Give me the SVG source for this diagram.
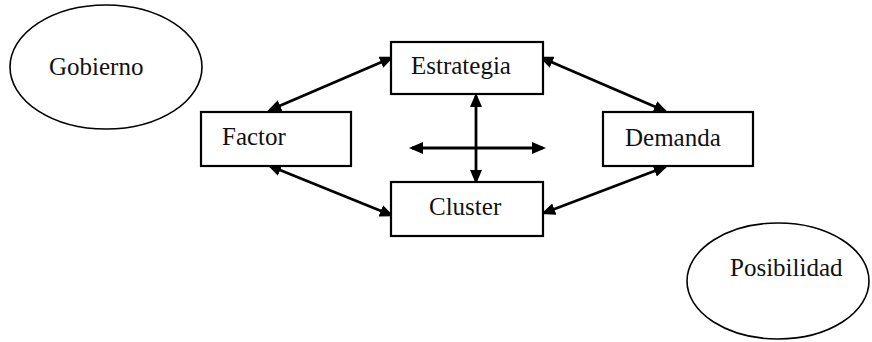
<svg xmlns="http://www.w3.org/2000/svg" width="872" height="342" viewBox="0 0 872 342">
<style>
.node{fill:#fff;stroke:#000;stroke-width:2.2}
.ell{fill:#fff;stroke:#000;stroke-width:1.6}
.lbl{font-family:"Liberation Serif","Times New Roman",serif;font-size:25px;fill:#111}
.conn{stroke:#000;stroke-width:2.8;fill:none;marker-start:url(#ah);marker-end:url(#ah)}
</style>
<defs>
<marker id="ah" markerUnits="userSpaceOnUse" markerWidth="14" markerHeight="12" refX="11" refY="6" orient="auto-start-reverse" viewBox="0 0 14 12">
<path d="M0,0 L14,6 L0,12 z" fill="#000"/>
</marker>
</defs>
<rect width="872" height="342" fill="#fff"/>
<g id="gobierno">
<ellipse class="ell" cx="106" cy="67" rx="96" ry="62"/>
<text class="lbl" x="49" y="75">Gobierno</text>
</g>
<g id="posibilidad">
<ellipse class="ell" cx="778" cy="281" rx="91" ry="58"/>
<text class="lbl" x="730" y="276">Posibilidad</text>
</g>
<g id="connectors">
<line class="conn" x1="270" y1="110" x2="391" y2="58"/>
<line class="conn" x1="270" y1="166" x2="391" y2="215"/>
<line class="conn" x1="542" y1="58" x2="665" y2="111"/>
<line class="conn" x1="665" y1="167" x2="544" y2="213"/>
<line class="conn" x1="476" y1="96" x2="476" y2="181"/>
<line class="conn" x1="412" y1="148" x2="543" y2="148"/>
</g>
<g id="estrategia">
<rect class="node" x="391" y="42" width="152" height="52"/>
<text class="lbl" x="411" y="74">Estrategia</text>
</g>
<g id="factor">
<rect class="node" x="201" y="112" width="150" height="54"/>
<text class="lbl" x="222" y="145">Factor</text>
</g>
<g id="cluster">
<rect class="node" x="391" y="182" width="152" height="54"/>
<text class="lbl" x="429" y="215">Cluster</text>
</g>
<g id="demanda">
<rect class="node" x="603" y="112" width="150" height="54"/>
<text class="lbl" x="625" y="146">Demanda</text>
</g>
</svg>
